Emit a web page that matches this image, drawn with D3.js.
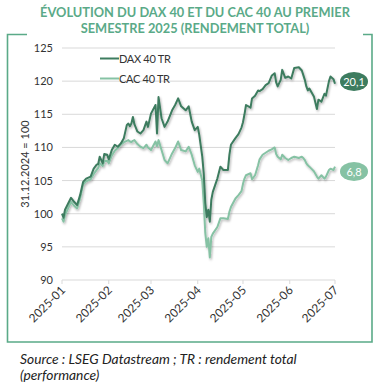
<!DOCTYPE html>
<html>
<head>
<meta charset="utf-8">
<script src="https://cdn.jsdelivr.net/npm/d3@7"></script>
<style>
  body { margin: 0; background: #fff; }
  svg { display: block; font-family: Lato, "Open Sans", sans-serif; }
</style>
</head>
<body>
<script>
// data (index, 31.12.2024 = 100)
var dates = ["2025-01-01","2025-01-02","2025-01-03","2025-01-05","2025-01-07","2025-01-09","2025-01-11","2025-01-13","2025-01-15","2025-01-17",
  "2025-01-20","2025-01-22","2025-01-24","2025-01-25","2025-01-26","2025-01-28","2025-01-29","2025-01-31","2025-02-01","2025-02-03",
  "2025-02-05","2025-02-07","2025-02-09","2025-02-11","2025-02-13","2025-02-14","2025-02-15","2025-02-16","2025-02-17","2025-02-18",
  "2025-02-20","2025-02-22","2025-02-24","2025-02-26","2025-02-27","2025-03-01","2025-03-04","2025-03-05","2025-03-06","2025-03-08",
  "2025-03-10","2025-03-12","2025-03-15","2025-03-17","2025-03-19","2025-03-21","2025-03-24","2025-03-26","2025-03-28","2025-03-30",
  "2025-04-01","2025-04-02","2025-04-04","2025-04-05","2025-04-06","2025-04-07","2025-04-08","2025-04-09","2025-04-10","2025-04-11",
  "2025-04-14","2025-04-16","2025-04-18","2025-04-21","2025-04-22","2025-04-23","2025-04-26","2025-04-28","2025-04-30","2025-05-01",
  "2025-05-02","2025-05-03","2025-05-06","2025-05-07","2025-05-09","2025-05-11","2025-05-12","2025-05-14","2025-05-16","2025-05-18",
  "2025-05-20","2025-05-22","2025-05-23","2025-05-24","2025-05-26","2025-05-27","2025-05-29","2025-05-31","2025-06-02","2025-06-04",
  "2025-06-07","2025-06-09","2025-06-10","2025-06-11","2025-06-12","2025-06-13","2025-06-14","2025-06-17","2025-06-19","2025-06-20",
  "2025-06-22","2025-06-24","2025-06-25","2025-06-27","2025-06-28","2025-06-30","2025-07-01"];

var dax = [100.0,99.4,100.6,101.5,102.4,101.8,101.3,102.8,104.8,105.3,
  105.6,106.8,107.4,107.5,108.6,107.6,109.0,108.9,108.2,109.6,
  110.4,110.1,110.6,111.4,113.4,113.6,113.2,113.6,114.6,113.5,
  112.4,112.1,112.6,113.9,113.1,115.1,116.4,112.1,117.6,114.4,
  113.1,113.9,115.6,116.4,117.4,116.2,115.6,116.2,113.9,112.6,
  113.1,111.9,108.6,106.0,101.6,99.5,100.6,98.8,102.1,103.3,
  105.3,107.1,106.6,106.6,108.9,110.4,111.4,112.0,113.0,113.8,
  115.0,116.4,116.0,117.4,117.8,118.6,118.5,118.8,119.4,119.7,
  120.8,121.2,119.8,119.2,120.2,121.7,120.5,120.7,120.4,122.0,
  122.1,121.6,120.9,120.2,119.2,118.6,118.9,117.7,115.8,117.2,
  116.9,118.1,117.8,120.0,120.7,120.3,119.6];

var cac = [99.3,98.8,99.8,100.8,101.8,101.2,100.8,102.3,104.4,104.9,
  105.2,106.0,106.6,106.9,107.6,107.2,107.9,108.0,107.6,108.8,
  109.5,109.9,110.4,110.8,111.0,111.1,110.9,110.8,111.0,111.1,
  110.5,110.1,109.9,110.4,110.0,109.6,110.9,110.2,111.1,109.6,
  108.1,107.6,109.1,109.9,110.9,109.6,109.4,110.1,108.9,107.3,
  106.3,106.8,105.0,101.6,97.1,95.0,96.3,93.4,96.5,97.0,
  98.0,99.3,99.3,99.2,100.3,101.0,102.3,102.8,103.4,104.5,
  105.3,105.8,106.1,105.2,105.8,107.3,108.2,108.9,109.2,109.5,
  109.7,110.0,109.0,108.6,108.2,108.9,108.4,108.1,108.4,108.6,
  108.4,108.6,108.4,108.1,107.6,107.3,107.1,106.4,105.6,105.3,
  105.8,105.3,105.6,106.6,106.8,106.6,107.1];

var seriesNames = ["DAX 40 TR", "CAC 40 TR"];
var endLabels = ["20,1", "6,8"];
var yTicks = [90, 95, 100, 105, 110, 115, 120, 125];
var xTicks = ["2025-01-01","2025-02-01","2025-03-01","2025-04-01","2025-05-01","2025-06-01","2025-07-01"];
var titleLines = ["ÉVOLUTION DU DAX 40 ET DU CAC 40 AU PREMIER", "SEMESTRE 2025 (RENDEMENT TOTAL)"];
var sourceLines = ["Source : LSEG Datastream ; TR : rendement total", "(performance)"];

var width = 376, height = 388;
var colors = ["#3d7c5f", "#86c2a4"];
var frameColor = "#5aaa88";

var parse = d3.timeParse("%Y-%m-%d");
var svg = d3.select("body").append("svg").attr("width", width).attr("height", height);

var x = d3.scaleTime().domain([parse("2025-01-01"), parse("2025-07-01")]).range([62, 335]);
var y = d3.scaleLinear().domain([90, 125]).range([280, 48]);

var defs = svg.append("defs");
var f = defs.append("filter").attr("id", "shadow").attr("x", "-10%").attr("y", "-10%").attr("width", "130%").attr("height", "130%");
f.append("feDropShadow").attr("dx", 1).attr("dy", 1.5).attr("stdDeviation", 1)
  .attr("flood-color", "#000").attr("flood-opacity", 0.3);

// title
svg.append("g").selectAll("text").data(titleLines).join("text")
  .attr("x", 195).attr("y", function(d, i) { return 17 + i * 15.5; })
  .attr("text-anchor", "middle")
  .attr("font-size", 12.8).attr("font-weight", 700)
  .attr("fill", frameColor)
  .text(function(d) { return d; });

// frame (top edge only at the corners)
svg.append("path")
  .attr("d", "M27,34.5 H7.5 V342 H372 V34.5 H363")
  .attr("fill", "none").attr("stroke", frameColor).attr("stroke-width", 1.6);

// grid + y labels
var yAxis = svg.append("g");
yAxis.selectAll("line").data(yTicks).join("line")
  .attr("x1", 62).attr("x2", 335)
  .attr("y1", function(d) { return y(d); }).attr("y2", function(d) { return y(d); })
  .attr("stroke", "#d9d9d9").attr("stroke-width", 1);
yAxis.selectAll("text").data(yTicks).join("text")
  .attr("x", 53).attr("y", function(d) { return y(d) + 4; })
  .attr("text-anchor", "end").attr("font-size", 11).attr("fill", "#333")
  .text(function(d) { return d; });

svg.append("text")
  .attr("transform", "translate(29,164) rotate(-90)")
  .attr("text-anchor", "middle").attr("font-size", 11).attr("fill", "#333")
  .text("31.12.2024 = 100");

// x ticks and labels
var xAxis = svg.append("g");
xAxis.selectAll("line").data(xTicks).join("line")
  .attr("x1", function(d) { return x(parse(d)); }).attr("x2", function(d) { return x(parse(d)); })
  .attr("y1", 280).attr("y2", 284)
  .attr("stroke", "#d9d9d9");
xAxis.selectAll("text").data(xTicks).join("text")
  .attr("transform", function(d) { return "translate(" + (x(parse(d)) + 4) + ",291) rotate(-45)"; })
  .attr("text-anchor", "end").attr("font-size", 11.8).attr("fill", "#333")
  .text(function(d) { return d.slice(0, 7); });

// lines
var line = d3.line()
  .x(function(d) { return x(d.date); })
  .y(function(d) { return y(d.value); });

var series = [dax, cac].map(function(vals) {
  return vals.map(function(v, i) { return { date: parse(dates[i]), value: v }; });
});

svg.append("g").attr("filter", "url(#shadow)").selectAll("path").data(series.slice().reverse()).join("path")
  .attr("d", line)
  .attr("fill", "none")
  .attr("stroke", function(d, i) { return colors[1 - i]; })
  .attr("stroke-width", 2)
  .attr("stroke-linejoin", "round");

// legend
var legend = svg.append("g").selectAll("g").data(seriesNames).join("g")
  .attr("transform", function(d, i) { return "translate(100," + (58.5 + i * 20) + ")"; });
legend.append("line").attr("x1", 0).attr("x2", 19)
  .attr("stroke", function(d, i) { return colors[i]; }).attr("stroke-width", 2);
legend.append("text").attr("x", 19).attr("y", 4)
  .attr("font-size", 11).attr("letter-spacing", -0.3).attr("fill", "#333")
  .text(function(d) { return d; });

// end labels
var ends = svg.append("g").selectAll("g").data(endLabels).join("g")
  .attr("transform", function(d, i) { return "translate(354," + (i === 0 ? 81.5 : 171.5) + ")"; });
ends.append("ellipse").attr("rx", 14).attr("ry", 9.5)
  .attr("fill", function(d, i) { return colors[i]; });
ends.append("text").attr("y", 4).attr("text-anchor", "middle")
  .attr("font-size", 11).attr("fill", "#fff")
  .text(function(d) { return d; });

// source
svg.append("g").selectAll("text").data(sourceLines).join("text")
  .attr("x", 20).attr("y", function(d, i) { return 364 + i * 16; })
  .attr("font-size", 13.8).attr("font-style", "italic").attr("fill", "#222")
  .text(function(d) { return d; });
</script>
</body>
</html>
